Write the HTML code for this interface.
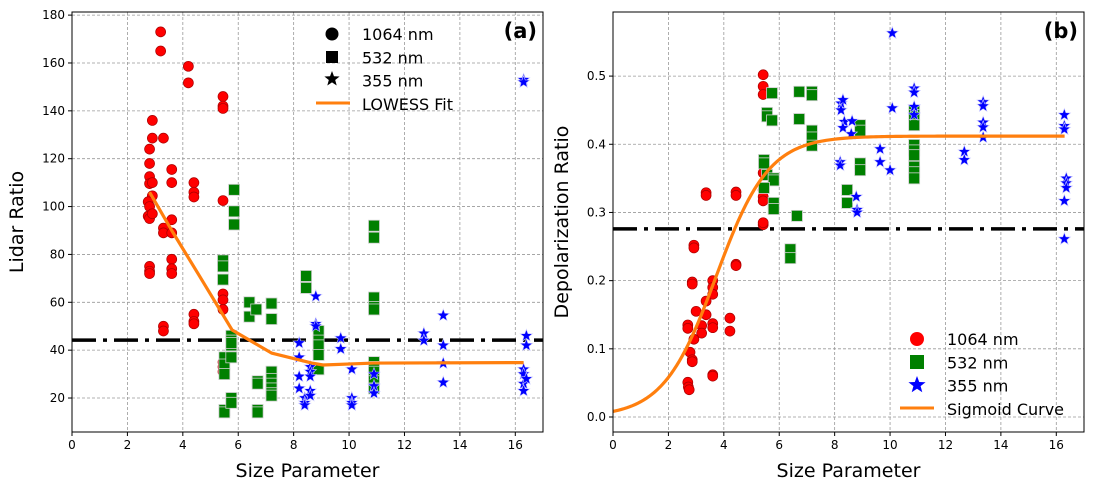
<!DOCTYPE html>
<html><head><meta charset="utf-8"><style>
body{margin:0;background:#fff;}
svg{display:block;font-family:"DejaVu Sans","Liberation Sans",sans-serif;}
</style></head><body>
<svg id="fig" width="1097" height="488" viewBox="0 0 1097 488" xmlns="http://www.w3.org/2000/svg">
<rect width="1097" height="488" fill="#fff"/>
<g id="pa"></g>
<g id="pb"></g>
</svg>
<script>
// ---- Panel (a) data ----
const aRedX=[3.2,3.2,2.9,2.9,3.3,4.2,4.2,5.45,5.45,5.45,2.8,2.8,2.8,2.8,2.9,2.9,2.75,2.8,2.75,2.8,2.9,4.4,4.4,4.4,3.6,3.6,3.6,3.3,3.3,3.6,3.3,3.3,2.8,2.8,2.8,4.4,4.4,4.4,5.45,5.45,5.45,5.45,5.45,5.45,5.45,5.45,3.6,3.6,3.6];
const aRedY=[173,165,136,128.6,128.6,158.6,151.7,146,142,141,124,118,112.5,109.6,110,104.5,102,100,96,95,97,110,106,104,115.5,110,94.5,91,89,89,50,48,75,73,72,55,52,51,102.5,75,63.5,61,57,35,33,31,78,74,72];
const aGreenX=[5.85,5.85,5.85,5.45,5.45,5.45,5.5,5.5,5.5,5.5,5.5,5.75,5.75,5.75,5.75,5.75,5.75,5.75,6.4,6.4,6.65,6.7,6.7,6.7,6.7,7.2,7.2,7.2,7.2,7.2,7.2,7.2,7.2,8.45,8.45,8.9,8.9,8.9,8.9,8.9,10.9,10.9,10.9,10.9,10.9,10.9,10.9,10.9,10.9,10.9];
const aGreenY=[107,98,92.5,77.5,75,69.5,37,34,30,15,14,46,44,42,43,37,20,18,60,54,57,27,26,15,14,59.5,53,31,28,26,24,22,21,71,66,48,44,42,38,32,92,87,62,58,57,35,33,31,27,24];
const aBlueX=[8.2,8.2,8.2,8.2,8.4,8.4,8.4,8.6,8.6,8.6,8.6,8.6,8.8,8.8,8.8,9.7,9.7,10.1,10.1,10.1,10.1,10.9,10.9,10.9,12.7,12.7,13.4,13.4,13.4,13.4,16.3,16.3,16.3,16.3,16.3,16.3,16.4,16.4,16.4];
const aBlueY=[43,37,29,24,20,18,17,33,31,29,23,21,62.5,51,50,45,40.5,32,20,18,17,30,25,22,47,44,54.5,42,34.5,26.5,153,152,32,30,26,23,46,42,28];
const lowX=[2.8,3.6,4.6,5.78,7.2,8.66,9.06,10.9,16.3];
const lowY=[106,90,71,48.4,38.8,34.6,33.8,34.6,34.8];
const aThreshold=44.2;
const aXTicks=[0,2,4,6,8,10,12,14,16];
const aYTicks=[20,40,60,80,100,120,140,160,180];
// ---- Panel (b) data ----
const bRedX=[5.42,5.42,5.42,5.42,5.42,5.42,5.42,5.42,5.42,4.44,4.44,3.36,3.36,2.92,2.92,4.44,4.44,2.86,2.86,3.6,3.6,3.6,3.36,3.36,3.0,4.22,4.22,3.6,3.6,3.2,3.2,2.7,2.7,2.92,2.78,2.86,2.86,3.6,3.6,2.7,2.72,2.75];
const bRedY=[0.502,0.485,0.473,0.358,0.333,0.323,0.317,0.282,0.285,0.33,0.325,0.329,0.325,0.252,0.248,0.224,0.222,0.198,0.195,0.2,0.19,0.18,0.15,0.17,0.155,0.145,0.126,0.137,0.131,0.134,0.123,0.135,0.13,0.114,0.095,0.084,0.081,0.062,0.06,0.051,0.044,0.04];
const bGreenX=[5.74,6.72,7.18,7.18,5.56,5.56,5.74,6.72,7.18,7.18,7.18,5.45,5.45,5.56,5.8,5.8,5.45,5.8,5.8,6.64,6.4,6.4,8.92,8.92,8.92,8.92,8.45,8.45,10.87,10.87,10.87,10.87,10.87,10.87,10.87,10.87,10.87];
const bGreenY=[0.475,0.477,0.477,0.472,0.446,0.441,0.435,0.437,0.42,0.41,0.398,0.377,0.372,0.355,0.35,0.347,0.336,0.314,0.305,0.295,0.246,0.233,0.428,0.42,0.372,0.362,0.333,0.314,0.45,0.443,0.428,0.399,0.391,0.384,0.367,0.359,0.35];
const bBlueX=[10.08,10.08,10.87,10.87,10.87,10.87,8.23,8.3,8.23,8.35,8.3,8.63,8.6,8.2,8.2,9.64,9.64,10.0,8.78,8.81,8.81,13.36,13.36,13.36,13.36,13.36,12.68,12.68,16.29,16.29,16.29,16.36,16.36,16.36,16.29,16.29];
const bBlueY=[0.563,0.453,0.482,0.476,0.455,0.443,0.46,0.465,0.45,0.433,0.424,0.434,0.415,0.374,0.369,0.393,0.374,0.362,0.323,0.304,0.3,0.462,0.456,0.432,0.425,0.41,0.389,0.377,0.443,0.427,0.422,0.35,0.343,0.336,0.317,0.261];
const sigParams=[0.412,1.05,3.72]; // L, k, x0
const bThreshold=0.276;
const bXTicks=[0,2,4,6,8,10,12,14,16];
const bYTicks=[0.0,0.1,0.2,0.3,0.4,0.5];

const NS="http://www.w3.org/2000/svg";
function mk(parent,tag,attrs,text){const e=document.createElementNS(NS,tag);for(const k in attrs)e.setAttribute(k,attrs[k]);if(text!==undefined)e.textContent=text;parent.appendChild(e);return e;}
function starPath(cx,cy,R){const r=R*0.42;let d="";for(let i=0;i<10;i++){const a=-Math.PI/2+i*Math.PI/5;const rr=i%2?r:R;d+=(i?"L":"M")+(cx+rr*Math.cos(a)).toFixed(2)+","+(cy+rr*Math.sin(a)).toFixed(2);}return d+"Z";}

function panel(g,box,xr,yr,xt,yt,yfmt,ylab,tag){
  const sx=v=>box.x+(v-xr[0])/(xr[1]-xr[0])*box.w;
  const sy=v=>box.y+box.h-(v-yr[0])/(yr[1]-yr[0])*box.h;
  const grid=mk(g,'g',{});
  
  
  xt.forEach(t=>{mk(grid,'line',{x1:sx(t),x2:sx(t),y1:box.y,y2:box.y+box.h,stroke:'#999','stroke-width':0.8,'stroke-dasharray':'3,2'});});
  yt.forEach(t=>{mk(grid,'line',{x1:box.x,x2:box.x+box.w,y1:sy(t),y2:sy(t),stroke:'#999','stroke-width':0.8,'stroke-dasharray':'3,2'});});
  const xa=mk(g,'g',{});
  
  
  xt.forEach(t=>{mk(xa,'line',{x1:sx(t),x2:sx(t),y1:box.y+box.h,y2:box.y+box.h+4,stroke:'#000'});
    const l=mk(xa,'text',{x:sx(t),y:box.y+box.h+17,'font-size':12,'text-anchor':'middle'},String(t));
    
    });
  const ya=mk(g,'g',{});
  
  
  yt.forEach(t=>{mk(ya,'line',{x1:box.x-4,x2:box.x,y1:sy(t),y2:sy(t),stroke:'#000'});
    const l=mk(ya,'text',{x:box.x-7,y:sy(t)+4,'font-size':12,'text-anchor':'end'},yfmt(t));
    
    });
  const xl=mk(g,'text',{x:box.x+box.w/2,y:477,'font-size':19,'text-anchor':'middle'},'Size Parameter');
  
  
  const ycx=box.x-(tag==='a'?49:45);
  const yl=mk(g,'text',{x:ycx,y:box.y+box.h/2,'font-size':19,'text-anchor':'middle',transform:`rotate(-90 ${ycx} ${box.y+box.h/2})`},ylab);
  
  
  return {sx,sy};
}
function scatter(g,sx,sy,xs,ys,kind){
  const grp=mk(g,'g',{});
  
  
  xs.forEach((x,i)=>{const cx=sx(x),cy=sy(ys[i]);let e;
    if(kind==='red-1064nm')e=mk(grp,'circle',{cx,cy,r:5,fill:'#ff0000',stroke:'#a00','stroke-width':0.7});
    else if(kind==='green-532nm')e=mk(grp,'rect',{x:cx-5.5,y:cy-5.5,width:11,height:11,fill:'#008000',stroke:'#cfcfcf','stroke-width':0.8});
    else e=mk(grp,'path',{d:starPath(cx,cy,6.5),fill:'#0000ff',stroke:'#cfcfff','stroke-width':0.6});
    
    });
}
function frame(g,box){const f=mk(g,'rect',{x:box.x,y:box.y,width:box.w,height:box.h,fill:'none',stroke:'#000','stroke-width':1});
  
  }

// Panel a
const ga=document.getElementById('pa');
const boxA={x:72,y:12,w:471,h:420};
const A=panel(ga,boxA,[0,17.0],[5.8,181.3],aXTicks,aYTicks,t=>String(t),'Lidar Ratio','a');
const thrA=mk(ga,'line',{x1:boxA.x,x2:boxA.x+boxA.w,y1:A.sy(aThreshold),y2:A.sy(aThreshold),stroke:'#000','stroke-width':3.5,'stroke-dasharray':'24,7,4,7'});


scatter(ga,A.sx,A.sy,aRedX,aRedY,'red-1064nm');
scatter(ga,A.sx,A.sy,aGreenX,aGreenY,'green-532nm');
scatter(ga,A.sx,A.sy,aBlueX,aBlueY,'blue-355nm');
const lw=mk(ga,'polyline',{points:lowX.map((x,i)=>A.sx(x)+','+A.sy(lowY[i])).join(' '),fill:'none',stroke:'#ff7f0e','stroke-width':3.2,'stroke-linejoin':'round'});


frame(ga,boxA);
const legA=mk(ga,'g',{});


mk(legA,'circle',{cx:332,cy:34,r:6.5,fill:'#000'});
mk(legA,'rect',{x:326,y:51,width:12,height:12,fill:'#000'});
mk(legA,'path',{d:starPath(332,79,8),fill:'#000'});
mk(legA,'line',{x1:316,x2:350,y1:103,y2:103,stroke:'#ff7f0e','stroke-width':3});
['1064 nm','532 nm','355 nm','LOWESS Fit'].forEach((t,i)=>{const e=mk(legA,'text',{x:362,y:40+i*23.3,'font-size':16},t);
  
  });
const la=mk(ga,'text',{x:537,y:38,'font-size':21,'font-weight':'bold','text-anchor':'end'},'(a)');



// Panel b
const gb=document.getElementById('pb');
const boxB={x:613,y:12,w:471,h:420};
const B=panel(gb,boxB,[0,17.0],[-0.022,0.594],bXTicks,bYTicks,t=>t.toFixed(1),'Depolarization Ratio','b');
const thrB=mk(gb,'line',{x1:boxB.x,x2:boxB.x+boxB.w,y1:B.sy(bThreshold),y2:B.sy(bThreshold),stroke:'#000','stroke-width':3.5,'stroke-dasharray':'24,7,4,7'});


scatter(gb,B.sx,B.sy,bRedX,bRedY,'red-1064nm');
scatter(gb,B.sx,B.sy,bGreenX,bGreenY,'green-532nm');
scatter(gb,B.sx,B.sy,bBlueX,bBlueY,'blue-355nm');
const pts=[];for(let x=0;x<=16.3;x+=0.1){const y=sigParams[0]/(1+Math.exp(-sigParams[1]*(x-sigParams[2])));pts.push(B.sx(x)+','+B.sy(y));}
const sg=mk(gb,'polyline',{points:pts.join(' '),fill:'none',stroke:'#ff7f0e','stroke-width':3.2});


frame(gb,boxB);
const legB=mk(gb,'g',{});


mk(legB,'circle',{cx:917,cy:339,r:7,fill:'#ff0000'});
mk(legB,'rect',{x:910,y:355,width:14,height:14,fill:'#008000'});
mk(legB,'path',{d:starPath(917,385,9),fill:'#0000ff'});
mk(legB,'line',{x1:900,x2:934,y1:408,y2:408,stroke:'#ff7f0e','stroke-width':3});
['1064 nm','532 nm','355 nm','Sigmoid Curve'].forEach((t,i)=>{const e=mk(legB,'text',{x:947,y:345+i*23.3,'font-size':16},t);
  
  });
const lb=mk(gb,'text',{x:1078,y:38,'font-size':21,'font-weight':'bold','text-anchor':'end'},'(b)');


</script>
</body></html>
